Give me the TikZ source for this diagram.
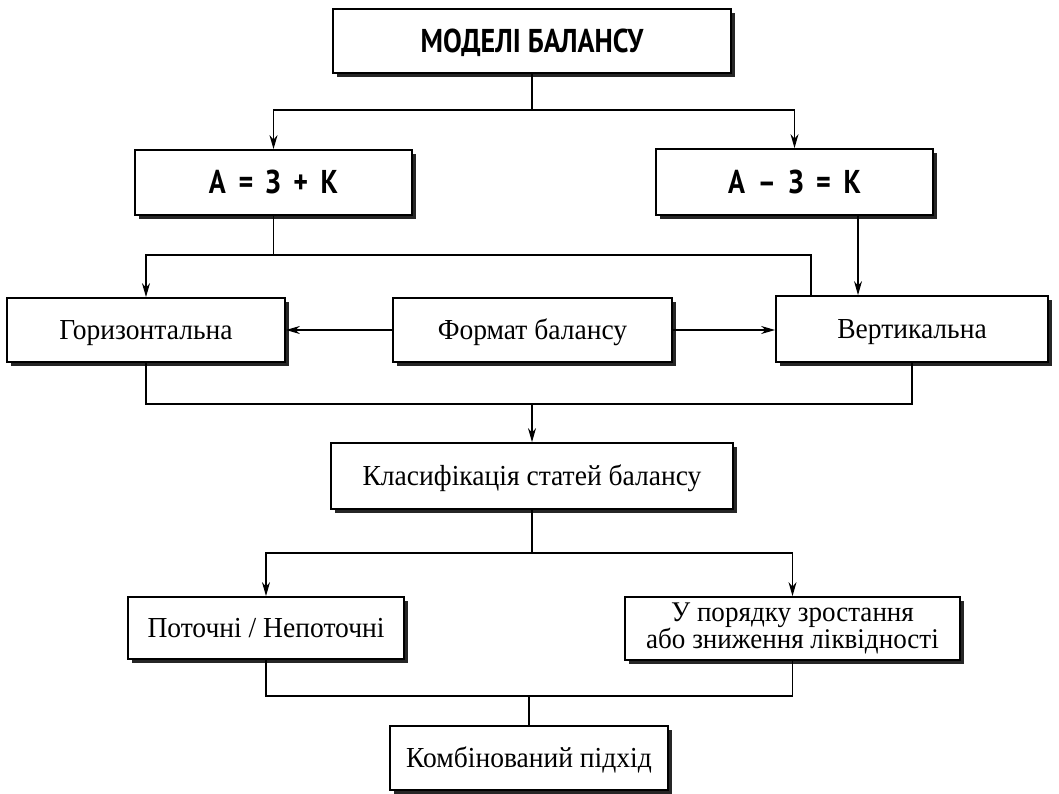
\documentclass[tikz,border=0pt]{standalone}
\usepackage{fontspec}
\setmainfont{Liberation Serif}[FakeStretch=0.95]
\newfontfamily\balheadfont{PT Sans}[FakeStretch=0.85]
\usetikzlibrary{arrows.meta,shadows}

\newcommand\balheadstyle{\fontsize{33}{36}\selectfont\balheadfont\bfseries}
\newcommand\baltextstyle{\fontsize{29}{31}\selectfont}
\newcommand\balsmallstyle{\fontsize{28.5}{27}\selectfont}
\tikzset{
  balbox/.style={draw, line width=1.8pt, fill=white, align=center, inner sep=0pt,
    drop shadow={shadow xshift=4pt, shadow yshift=-4pt, opacity=1, fill=black!85}},
  balhead/.style={balbox, font=\balheadstyle, text height=23pt, text depth=0pt},
  baltext/.style={balbox, font=\baltextstyle, text height=19pt, text depth=1pt},
  baltwo/.style={balbox, font=\balsmallstyle},
  balline/.style={line width=1.2pt},
  balarrow/.style={balline, -{Stealth[length=14pt, width=8pt]}},
}

\begin{document}
\begin{tikzpicture}[x=1pt, y=-1pt]
    \useasboundingbox (0, 0) rectangle (1059, 794) ;
    % boxes
    \node[balhead, minimum width=398pt, minimum height=64pt] (title) at (532, 41) {МОДЕЛІ БАЛАНСУ} ;
    \node[balhead, minimum width=277pt, minimum height=65pt] (eqL) at (273.5, 182.5) {А \,=\, З \,+\, К} ;
    \node[balhead, minimum width=277pt, minimum height=66pt] (eqR) at (794.5, 182) {А \,–\, З \,=\, К} ;
    \node[baltext, minimum width=278pt, minimum height=64pt] (horiz) at (146, 330) {Горизонтальна} ;
    \node[baltext, minimum width=279pt, minimum height=64pt] (format) at (532.5, 330) {Формат балансу} ;
    \node[baltext, minimum width=272pt, minimum height=66pt] (vert) at (912, 329) {Вертикальна} ;
    \node[baltext, minimum width=402pt, minimum height=66pt] (klas) at (532, 476) {Класифікація статей балансу} ;
    \node[baltext, minimum width=276pt, minimum height=62pt] (potoch) at (266, 628) {Поточні / Непоточні} ;
    \node[baltwo, minimum width=335pt, minimum height=63pt] (poryad) at (792.5, 628.5) {У порядку зростання\\ або зниження ліквідності} ;
    \node[baltext, minimum width=278pt, minimum height=64pt] (komb) at (529, 758) {Комбінований підхід} ;
    % connectors
    \coordinate (jTop) at (532, 110) ;
    \draw[balline] (title.south) -- (jTop) ;
    \draw[balarrow] (jTop) -| (eqL.north) ;
    \draw[balarrow] (jTop) -| (eqR.north) ;
    \coordinate (jMid) at (273.5, 255) ;
    \coordinate (vertIn) at (811, 296) ;
    \draw[balline] (eqL.south) -- (jMid) ;
    \draw[balarrow] (jMid) -| (horiz.north) ;
    \draw[balline] (jMid) -| (vertIn) ;
    \draw[balarrow] ([xshift=63.5pt]eqR.south) -- ([xshift=63.5pt]eqR.south |- vert.north) ;
    \draw[balarrow] (format.west) -- (horiz.east) ;
    \draw[balarrow] (format.east) -- (format.east -| vert.west) ;
    \coordinate (jLow) at (532, 404) ;
    \draw[balline] (horiz.south) |- (jLow) -| (vert.south) ;
    \draw[balarrow] (jLow) -- (klas.north) ;
    \coordinate (jKlas) at (532, 553) ;
    \draw[balline] (klas.south) -- (jKlas) ;
    \draw[balarrow] (jKlas) -| (potoch.north) ;
    \draw[balarrow] (jKlas) -| (poryad.north) ;
    \coordinate (jBot) at (529, 696) ;
    \draw[balline] (potoch.south) |- (jBot) -| (poryad.south) ;
    \draw[balline] (jBot) -- (komb.north) ;
\end{tikzpicture}
\end{document}
